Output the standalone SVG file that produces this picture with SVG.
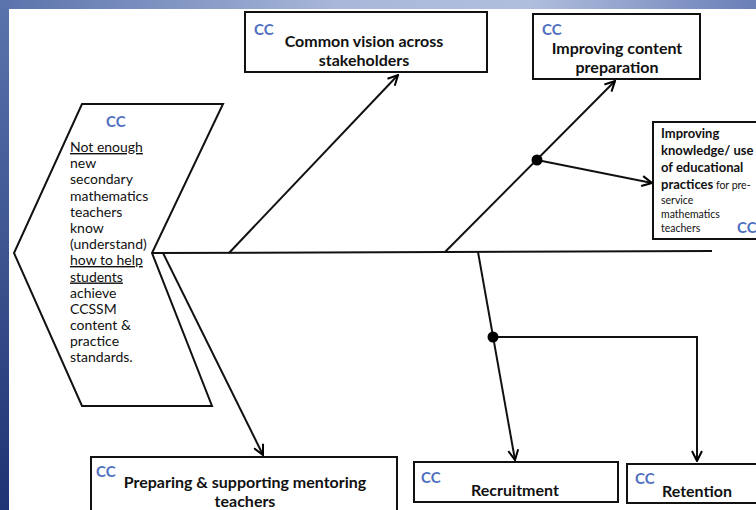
<svg xmlns="http://www.w3.org/2000/svg" width="756" height="510" viewBox="0 0 756 510">
<defs>
<linearGradient id="gl" x1="0" y1="0" x2="0" y2="1"><stop offset="0" stop-color="#5a74ad"/><stop offset="1" stop-color="#1e3373"/></linearGradient>
<linearGradient id="gt" x1="0" y1="0" x2="1" y2="0"><stop offset="0" stop-color="#5a72ab"/><stop offset="0.45" stop-color="#a9b8da"/><stop offset="0.7" stop-color="#b0bedd"/><stop offset="1" stop-color="#6b7fb8"/></linearGradient>
<marker id="ah" viewBox="0 0 12 12" refX="11" refY="6" markerWidth="12" markerHeight="12" markerUnits="userSpaceOnUse" orient="auto"><path d="M1,1 L11,6 L1,11" fill="none" stroke="#000" stroke-width="2"/></marker>
</defs>
<style>
.box{fill:#fff;stroke:#111;stroke-width:2}
.ln{fill:none;stroke:#111;stroke-width:2}
.cc{font-family:Lato,"Open Sans",sans-serif;font-weight:bold;fill:#4f70bf;font-size:15px}
.lb{font-family:Lato,"Open Sans",sans-serif;font-weight:bold;fill:#111;font-size:16px;text-anchor:middle}
.tx{font-family:Lato,"Open Sans",sans-serif;fill:#111;font-size:14px}
.b3{font-family:Lato,"Open Sans",sans-serif;font-weight:bold;fill:#111;font-size:13px}
.s3{font-family:Lato,"Open Sans",sans-serif;fill:#111;font-size:10.5px}
</style>
<rect x="0" y="0" width="756" height="510" fill="#fff"/>
<rect x="0" y="0" width="756" height="9" fill="url(#gt)"/>
<rect x="0" y="0" width="9" height="510" fill="url(#gl)"/>

<g id="connectors">
<path class="ln" d="M152,253 L712,251"/>
<path class="ln" d="M229,253 L398,75" marker-end="url(#ah)"/>
<path class="ln" d="M445,252 L615,81" marker-end="url(#ah)"/>
<path class="ln" d="M537,160 L652,183" stroke-width="2.5" marker-end="url(#ah)"/>
<path class="ln" d="M478,252 L515,460" stroke-width="2.5" marker-end="url(#ah)"/>
<path class="ln" d="M493,337 L697,337 L697,461" stroke-width="2.5" marker-end="url(#ah)"/>
<path class="ln" d="M163,253 L263,455" marker-end="url(#ah)"/>
<circle cx="537" cy="160" r="5.5" fill="#000"/>
<circle cx="493" cy="337" r="5.5" fill="#000"/>
</g>

<g id="problem">
<polygon class="box" points="82,104 223,104 152,253 212,406 82,406 14,253"/>
<text class="cc" x="106" y="127">CC</text>
<text class="tx" x="70">
<tspan x="70" y="152" text-decoration="underline">Not enough</tspan>
<tspan x="70" y="168">new</tspan>
<tspan x="70" y="184">secondary</tspan>
<tspan x="70" y="200.5">mathematics</tspan>
<tspan x="70" y="216.5">teachers</tspan>
<tspan x="70" y="233">know</tspan>
<tspan x="70" y="249">(understand)</tspan>
<tspan x="70" y="265" text-decoration="underline">how to help</tspan>
<tspan x="70" y="281.5" text-decoration="underline">students</tspan>
<tspan x="70" y="297.5">achieve</tspan>
<tspan x="70" y="314">CCSSM</tspan>
<tspan x="70" y="330">content &amp;</tspan>
<tspan x="70" y="346">practice</tspan>
<tspan x="70" y="362">standards.</tspan>
</text>
</g>

<g id="vision">
<rect class="box" x="245" y="12" width="242" height="60"/>
<text class="cc" x="254" y="35">CC</text>
<text class="lb" x="364" y="47">Common vision across</text>
<text class="lb" x="364" y="66">stakeholders</text>
</g>

<g id="content">
<rect class="box" x="533" y="14" width="167" height="65"/>
<text class="cc" x="542" y="35">CC</text>
<text class="lb" x="617" y="54">Improving content</text>
<text class="lb" x="617" y="73">preparation</text>
</g>

<g id="knowledge">
<rect class="box" x="653" y="122" width="130" height="117"/>
<text class="b3" x="661" y="138">Improving</text>
<text class="b3" x="661" y="155">knowledge/ use</text>
<text class="b3" x="661" y="172">of educational</text>
<text class="b3" x="661" y="189">practices<tspan class="s3" font-weight="normal"> for pre-</tspan></text>
<text class="s3" x="661" y="204">service</text>
<text class="s3" x="661" y="218">mathematics</text>
<text class="s3" x="661" y="232">teachers</text>
<text class="cc" x="737" y="233">CC</text>
</g>

<g id="mentoring">
<rect class="box" x="91" y="457" width="306" height="70"/>
<text class="cc" x="96" y="477">CC</text>
<text class="lb" x="245" y="488" font-size="15.5">Preparing &amp; supporting mentoring</text>
<text class="lb" x="245" y="507" font-size="15.5">teachers</text>
</g>

<g id="recruitment">
<rect class="box" x="414" y="462" width="204" height="40"/>
<text class="cc" x="421" y="483">CC</text>
<text class="lb" x="515" y="496">Recruitment</text>
</g>

<g id="retention">
<rect class="box" x="627" y="464" width="140" height="39"/>
<text class="cc" x="635" y="484">CC</text>
<text class="lb" x="697" y="497">Retention</text>
</g>
</svg>
